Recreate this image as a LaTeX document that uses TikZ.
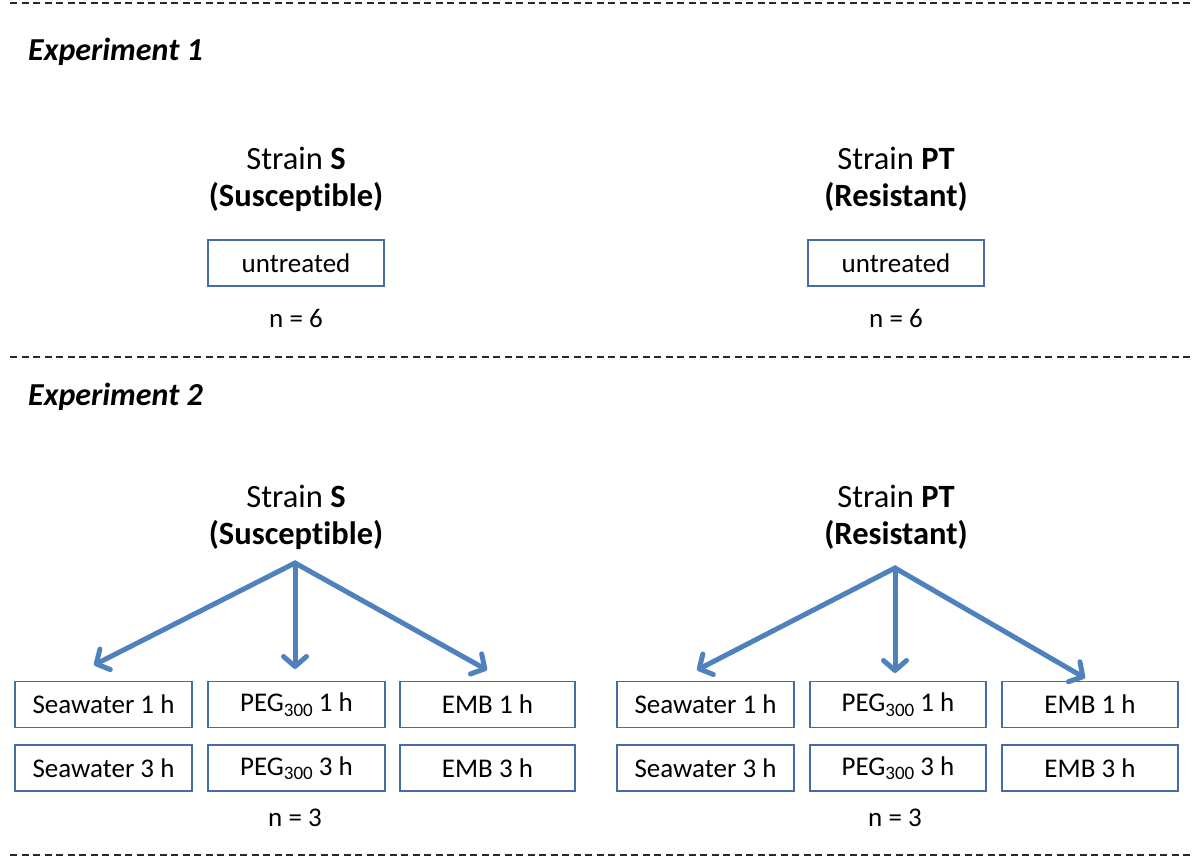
\documentclass[tikz,border=0pt]{standalone}
\usepackage{fontspec}
\setmainfont[Ligatures={NoCommon,NoRare}]{Carlito}
\usetikzlibrary{arrows.meta}
\definecolor{arrowblue}{RGB}{79,129,189}
\definecolor{boxblue}{RGB}{70,108,165}
\definecolor{dashgray}{RGB}{40,40,40}
\begin{document}
\begin{tikzpicture}[x=1pt,y=-1pt,
  sep/.style={draw=dashgray,line width=1.3pt,dash pattern=on 7pt off 4.5pt},
  exlabel/.style={font=\fontsize{32}{38}\selectfont\bfseries\itshape,anchor=base west,inner sep=0},
  strain/.style={font=\fontsize{32.5}{37}\selectfont,align=center,inner sep=0},
  cond/.style={draw=boxblue,line width=1.2pt,minimum height=46pt,inner sep=0,font=\fontsize{27}{30}\selectfont},
  ntext/.style={font=\fontsize{27}{30}\selectfont,inner sep=0},
  branch/.style={draw=arrowblue,line width=5pt,-{Straight Barb[length=10pt,width=23pt,round]},line cap=round}
]
\useasboundingbox (0,0) rectangle (1200,861);
% separators
\coordinate (l1a) at (10,3);   \coordinate (l1b) at (1190,3);
\coordinate (l2a) at (10,357); \coordinate (l2b) at (1190,357);
\coordinate (l3a) at (10,855); \coordinate (l3b) at (1190,855);
\draw[sep] (l1a) -- (l1b);
\draw[sep] (l2a) -- (l2b);
\draw[sep] (l3a) -- (l3b);

% Experiment 1
\node[exlabel] (ex1) at (28,61) {Experiment 1};
\node[strain] (s1) at (296,179) {Strain \textbf{S}\\\textbf{(Susceptible)}};
\node[strain] (p1) at (896,179) {Strain \textbf{PT}\\\textbf{(Resistant)}};
\node[cond,minimum width=176pt] (u1) at (296,263) {untreated};
\node[cond,minimum width=176pt] (u2) at (896,263) {untreated};
\node[ntext] (n1) at (296,318) {n = 6};
\node[ntext] (n2) at (896,318) {n = 6};

% Experiment 2
\node[exlabel] (ex2) at (28,405) {Experiment 2};
\node[strain] (s2) at (296,517) {Strain \textbf{S}\\\textbf{(Susceptible)}};
\node[strain] (p2) at (896,517) {Strain \textbf{PT}\\\textbf{(Resistant)}};

% left group boxes
\node[cond,minimum width=177pt] (sa1) at (103.5,704.5) {Seawater 1 h};
\node[cond,minimum width=177pt] (sa2) at (103.5,768) {Seawater 3 h};
\node[cond,minimum width=177pt] (pa1) at (296.5,704.5) {PEG\raisebox{-0.35ex}{\fontsize{19}{20}\selectfont 300} 1 h};
\node[cond,minimum width=177pt] (pa2) at (296.5,768) {PEG\raisebox{-0.35ex}{\fontsize{19}{20}\selectfont 300} 3 h};
\node[cond,minimum width=175pt] (ea1) at (487.5,704.5) {EMB 1 h};
\node[cond,minimum width=175pt] (ea2) at (487.5,768) {EMB 3 h};
\node[ntext] (n3) at (295,818) {n = 3};

% right group boxes
\node[cond,minimum width=177pt] (sb1) at (705.5,704.5) {Seawater 1 h};
\node[cond,minimum width=177pt] (sb2) at (705.5,768) {Seawater 3 h};
\node[cond,minimum width=176pt] (pb1) at (898,704.5) {PEG\raisebox{-0.35ex}{\fontsize{19}{20}\selectfont 300} 1 h};
\node[cond,minimum width=176pt] (pb2) at (898,768) {PEG\raisebox{-0.35ex}{\fontsize{19}{20}\selectfont 300} 3 h};
\node[cond,minimum width=176pt] (eb1) at (1090,704.5) {EMB 1 h};
\node[cond,minimum width=176pt] (eb2) at (1090,768) {EMB 3 h};
\node[ntext] (n4) at (895,818) {n = 3};

% arrows
\coordinate (oa) at (295,563);
\coordinate (ta1) at (94,665);
\coordinate (ta2) at (295,669);
\coordinate (ta3) at (487,670);
\draw[branch] (oa) -- (ta1);
\draw[branch] (oa) -- (ta2);
\draw[branch] (oa) -- (ta3);
\coordinate (ob) at (895,568);
\coordinate (tb1) at (697,670);
\coordinate (tb2) at (895,673);
\coordinate (tb3) at (1085,678);
\draw[branch] (ob) -- (tb1);
\draw[branch] (ob) -- (tb2);
\draw[branch] (ob) -- (tb3);
\end{tikzpicture}
\end{document}
